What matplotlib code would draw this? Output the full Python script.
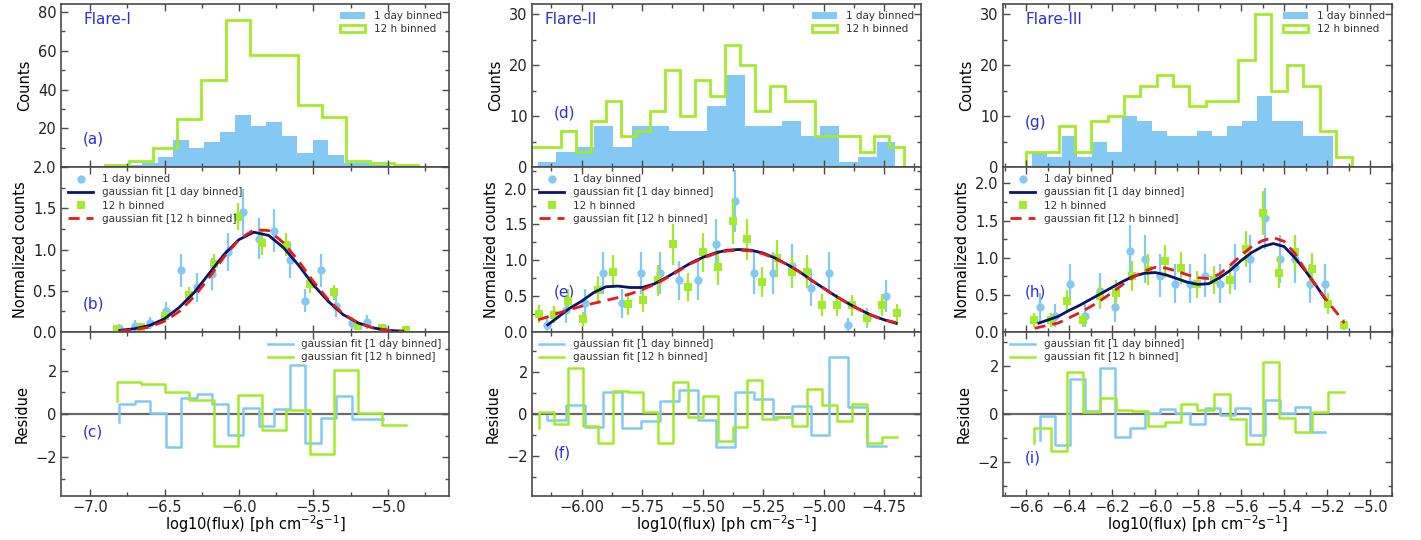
import matplotlib
matplotlib.use("Agg")
import matplotlib.pyplot as plt
import numpy as np
from matplotlib.ticker import MultipleLocator, FixedLocator
from matplotlib.patches import Patch
from matplotlib.lines import Line2D

#---------------------------------------------------------------------------------
# Flare-I

f1_day_x = [-6.805, -6.701, -6.597, -6.493, -6.389, -6.285, -6.180, -6.076, -5.972,
            -5.868, -5.764, -5.660, -5.556, -5.452, -5.348, -5.244, -5.139, -5.035]
f1_day_counts = [1, 1, 2, 5, 14, 10, 13, 18, 27, 21, 23, 16, 7, 14, 6, 2, 2, 1]
f1_day_norm = [0.05, 0.07, 0.11, 0.25, 0.75, 0.54, 0.70, 0.97, 1.45, 1.13, 1.23, 0.87,
               0.38, 0.75, 0.31, 0.11, 0.12, 0.05]
f1_day_resid = [-0.36, 0.47, 0.62, 0.05, -1.55, 0.72, 0.95, 0.48, -0.95, 0.30, -0.55,
                0.25, 2.25, -1.35, -0.18, 0.83, -0.25, -0.22]

f1_12h_x = [-6.818, -6.656, -6.494, -6.333, -6.171, -6.009, -5.847, -5.685, -5.524,
            -5.362, -5.200, -5.038, -4.876]
f1_12h_counts = [1, 3, 10, 25, 45, 76, 58, 58, 32, 26, 3, 2, 1]
f1_12h_norm = [0.04, 0.06, 0.19, 0.45, 0.82, 1.40, 1.08, 1.06, 0.58, 0.48, 0.07, 0.05, 0.03]
f1_12h_resid = [0.60, 1.46, 1.40, 1.00, 0.65, -1.47, 0.88, -0.75, 0.19, -1.86, 2.05, 0.03, -0.50]

f1_fit_x = [-6.8, -6.7, -6.6, -6.5, -6.4, -6.3, -6.2, -6.1, -6.0, -5.9,
            -5.8, -5.7, -5.6, -5.5, -5.4, -5.3, -5.2, -5.1, -5.0, -4.9]
f1_fit_day = [0.02, 0.04, 0.08, 0.16, 0.30, 0.48, 0.71, 0.94, 1.12, 1.21,
              1.17, 1.02, 0.81, 0.57, 0.37, 0.21, 0.11, 0.05, 0.02, 0.01]
f1_fit_12h = [0.01, 0.03, 0.06, 0.13, 0.25, 0.43, 0.66, 0.91, 1.12, 1.24,
              1.23, 1.08, 0.86, 0.61, 0.39, 0.22, 0.11, 0.05, 0.02, 0.01]

#---------------------------------------------------------------------------------
# Flare-II

f2_day_x = [-6.143, -6.066, -5.988, -5.910, -5.832, -5.754, -5.677, -5.599, -5.521, -5.443,
            -5.365, -5.288, -5.210, -5.132, -5.054, -4.976, -4.898, -4.821, -4.743]
f2_day_counts = [1, 3, 4, 8, 4, 8, 8, 7, 7, 12, 18, 8, 8, 9, 6, 8, 1, 2, 5]
f2_day_norm = [0.10, 0.30, 0.40, 0.82, 0.40, 0.82, 0.82, 0.72, 0.72, 1.22,
               1.83, 0.82, 0.82, 0.92, 0.62, 0.82, 0.10, 0.20, 0.50]
f2_day_resid = [-0.10, -0.28, 0.43, -0.63, 1.06, -0.68, -0.32, 0.62, 1.14, -0.29,
                -1.59, 1.06, 0.71, -0.13, 0.38, -1.00, 2.70, 0.35, -1.52]

f2_12h_x = [-6.178, -6.116, -6.055, -5.993, -5.931, -5.870, -5.808, -5.746, -5.685,
            -5.623, -5.561, -5.500, -5.438, -5.376, -5.315, -5.253, -5.191, -5.130,
            -5.068, -5.006, -4.945, -4.883, -4.821, -4.760, -4.698]
f2_12h_counts = [4, 4, 7, 3, 9, 13, 6, 7, 11, 19, 10, 17, 14, 24, 20, 11, 16, 13, 13,
                 6, 6, 6, 3, 6, 4]
f2_12h_norm = [0.25, 0.24, 0.43, 0.18, 0.59, 0.84, 0.39, 0.45, 0.72, 1.22, 0.63, 1.11,
               0.90, 1.55, 1.29, 0.70, 1.03, 0.84, 0.84, 0.38, 0.38, 0.37, 0.19, 0.38, 0.26]
f2_12h_resid = [-0.68, 0.08, -0.49, 2.20, -0.56, -1.40, 1.10, 1.05, 0.10, -1.37, 1.52,
                -0.16, 0.87, -1.27, -0.60, 1.62, -0.25, -0.16, -0.57, 1.21, 0.41, -0.32,
                0.48, -1.40, -1.11]

f2_fit_day_x = [-6.14, -6.10, -6.05, -6.00, -5.95, -5.90, -5.85, -5.80, -5.75, -5.70,
                -5.65, -5.60, -5.55, -5.50, -5.45, -5.40, -5.35, -5.30, -5.25, -5.20,
                -5.15, -5.10, -5.05, -5.00, -4.95, -4.90, -4.85, -4.80, -4.75, -4.70]
f2_fit_day = [0.10, 0.20, 0.33, 0.43, 0.55, 0.63, 0.64, 0.62, 0.62, 0.67,
              0.76, 0.86, 0.96, 1.04, 1.10, 1.14, 1.15, 1.14, 1.10, 1.03,
              0.94, 0.84, 0.72, 0.61, 0.50, 0.40, 0.31, 0.23, 0.17, 0.12]
f2_fit_12h_x = [-6.18, -6.15, -6.10, -6.05, -6.00, -5.95, -5.90, -5.85, -5.80, -5.75,
                -5.70, -5.65, -5.60, -5.55, -5.50, -5.45, -5.40, -5.35, -5.30, -5.25,
                -5.20, -5.15, -5.10, -5.05, -5.00, -4.95, -4.90, -4.85, -4.80, -4.75, -4.70]
f2_fit_12h = [0.17, 0.20, 0.26, 0.31, 0.36, 0.40, 0.44, 0.48, 0.53, 0.59,
              0.66, 0.75, 0.85, 0.95, 1.03, 1.09, 1.13, 1.14, 1.13, 1.09,
              1.02, 0.94, 0.84, 0.72, 0.61, 0.50, 0.40, 0.31, 0.23, 0.17, 0.13]

#---------------------------------------------------------------------------------
# Flare-III

f3_day_x = [-6.537, -6.467, -6.397, -6.327, -6.257, -6.187, -6.117, -6.048, -5.978, -5.908,
            -5.838, -5.768, -5.698, -5.628, -5.559, -5.489, -5.419, -5.349, -5.279, -5.209]
f3_day_counts = [3, 2, 6, 2, 5, 3, 10, 9, 7, 6, 6, 7, 6, 8, 9, 14, 9, 9, 6, 6]
f3_day_norm = [0.33, 0.22, 0.65, 0.22, 0.55, 0.33, 1.09, 0.98, 0.76, 0.65,
               0.65, 0.76, 0.65, 0.87, 0.98, 1.53, 0.98, 0.98, 0.65, 0.65]
f3_day_resid = [-1.08, -0.08, -1.29, 1.46, 0.14, 1.90, -0.94, -0.57, 0.03, 0.22,
                0.06, -0.42, 0.26, -0.06, 0.26, -0.85, 0.58, 0.03, 0.28, -0.74]

f3_12h_x = [-6.562, -6.486, -6.410, -6.334, -6.258, -6.183, -6.107, -6.031, -5.955, -5.879,
            -5.803, -5.727, -5.651, -5.575, -5.499, -5.424, -5.348, -5.272, -5.196, -5.120]
f3_12h_counts = [3, 3, 8, 3, 9, 10, 14, 16, 18, 16, 12, 13, 13, 21, 30, 15, 20, 16, 7, 2]
f3_12h_norm = [0.16, 0.16, 0.42, 0.16, 0.48, 0.53, 0.75, 0.84, 0.95, 0.86,
               0.64, 0.70, 0.70, 1.12, 1.60, 0.80, 1.07, 0.85, 0.38, 0.10]
f3_12h_resid = [-1.19, -0.57, -1.53, 1.76, 0.10, 0.65, 0.17, 0.12, -0.50, -0.32,
                0.42, 0.17, 0.83, -0.22, -1.25, 2.15, -0.18, -0.74, 0.10, 0.90]

f3_fit_day_x = [-6.54, -6.50, -6.45, -6.40, -6.35, -6.30, -6.25, -6.20, -6.15, -6.10,
                -6.05, -6.00, -5.95, -5.90, -5.85, -5.80, -5.75, -5.70, -5.65, -5.60,
                -5.55, -5.50, -5.45, -5.40, -5.35, -5.30, -5.25, -5.21]
f3_fit_day = [0.12, 0.16, 0.21, 0.29, 0.36, 0.44, 0.52, 0.60, 0.68, 0.75,
              0.79, 0.80, 0.77, 0.72, 0.67, 0.64, 0.65, 0.73, 0.83, 0.96,
              1.07, 1.15, 1.19, 1.15, 1.00, 0.82, 0.62, 0.45]
f3_fit_12h_x = [-6.56, -6.50, -6.45, -6.40, -6.35, -6.30, -6.25, -6.20, -6.15, -6.10,
                -6.05, -6.00, -5.95, -5.90, -5.85, -5.80, -5.75, -5.70, -5.65, -5.60,
                -5.55, -5.50, -5.45, -5.40, -5.35, -5.30, -5.25, -5.20, -5.15, -5.12]
f3_fit_12h = [0.05, 0.09, 0.12, 0.19, 0.26, 0.34, 0.43, 0.53, 0.64, 0.74,
              0.82, 0.87, 0.86, 0.82, 0.77, 0.73, 0.72, 0.78, 0.90, 1.03,
              1.15, 1.23, 1.27, 1.22, 1.06, 0.83, 0.62, 0.42, 0.24, 0.12]

#---------------------------------------------------------------------------------
# Estilo

c_day = '#84c9f4'
c_12h = '#a4ea2c'
c_fit_day = '#0b1466'
c_fit_12h = '#e51b1b'
c_txt = '#2f2fd6'
c_frame = '#4a4a4a'

plt.rcParams['font.family'] = 'DejaVu Sans'
plt.rcParams['font.size'] = 10.5

fig = plt.figure(figsize=(14.21, 5.40), dpi=100)

col_left = [61, 532, 1003]
col_width = [388, 389, 389]
row_top = [4, 167, 332]
row_height = [163, 165, 164]
W, H = 1421.0, 540.0

columns = [
    dict(name='Flare-I', tags=['(a)', '(b)', '(c)'],
         day=(f1_day_x, f1_day_counts, f1_day_norm, f1_day_resid),
         h12=(f1_12h_x, f1_12h_counts, f1_12h_norm, f1_12h_resid),
         fit_day=(f1_fit_x, f1_fit_day), fit_12h=(f1_fit_x, f1_fit_12h),
         xlim=(-7.195, -4.59), xmaj=0.5, ylim_top=(0, 84.2), ymaj_top=20,
         ylim_mid=(0, 2.0), ylim_res=(-3.8, 3.8), res_leg='upper right',
         tag_y=[0.17, 0.17, 0.39], name_x=0.059, hide_zero=True),
    dict(name='Flare-II', tags=['(d)', '(e)', '(f)'],
         day=(f2_day_x, f2_day_counts, f2_day_norm, f2_day_resid),
         h12=(f2_12h_x, f2_12h_counts, f2_12h_norm, f2_12h_resid),
         fit_day=(f2_fit_day_x, f2_fit_day), fit_12h=(f2_fit_12h_x, f2_fit_12h),
         xlim=(-6.205, -4.598), xmaj=0.25, ylim_top=(0, 32), ymaj_top=10,
         ylim_mid=(0, 2.3), ylim_res=(-3.9, 3.9), res_leg='upper left',
         tag_y=[0.33, 0.24, 0.26], name_x=0.033, hide_zero=False),
    dict(name='Flare-III', tags=['(g)', '(h)', '(i)'],
         day=(f3_day_x, f3_day_counts, f3_day_norm, f3_day_resid),
         h12=(f3_12h_x, f3_12h_counts, f3_12h_norm, f3_12h_resid),
         fit_day=(f3_fit_day_x, f3_fit_day), fit_12h=(f3_fit_12h_x, f3_fit_12h),
         xlim=(-6.707, -4.898), xmaj=0.2, ylim_top=(0, 32), ymaj_top=10,
         ylim_mid=(0, 2.22), ylim_res=(-3.4, 3.4), res_leg='upper left',
         tag_y=[0.27, 0.24, 0.23], name_x=0.059, hide_zero=False),
]


def edges_from_centers(x):
    x = np.asarray(x)
    w = x[1] - x[0]
    return np.append(x - w / 2, x[-1] + w / 2)


def style_axes(ax, xmaj, ymaj):
    ax.xaxis.set_major_locator(MultipleLocator(xmaj))
    ax.xaxis.set_minor_locator(MultipleLocator(xmaj / 2))
    ax.yaxis.set_major_locator(MultipleLocator(ymaj))
    ax.yaxis.set_minor_locator(MultipleLocator(ymaj / 2))
    ax.tick_params(which='both', direction='in', top=True, right=True,
                   color=c_frame, labelcolor='#222222', width=1.0)
    ax.tick_params(which='major', length=5, pad=3)
    ax.tick_params(which='minor', length=3)
    for s in ax.spines.values():
        s.set_color(c_frame)
        s.set_linewidth(1.2)


for j, col in enumerate(columns):
    axs = []
    for i in range(3):
        rect = [col_left[j] / W, 1 - (row_top[i] + row_height[i]) / H,
                col_width[j] / W, row_height[i] / H]
        axs.append(fig.add_axes(rect))
    ax_top, ax_mid, ax_res = axs

    dx, dcnt, dnorm, dres = col['day']
    hx, hcnt, hnorm, hres = col['h12']

    # histogramas
    ax_top.stairs(dcnt, edges_from_centers(dx), fill=True, color=c_day, lw=0)
    ax_top.stairs(hcnt, edges_from_centers(hx), color=c_12h, lw=2.0)
    ax_top.set_ylim(*col['ylim_top'])
    ax_top.set_ylabel('Counts')
    leg_handles = [Patch(facecolor=c_day, edgecolor='none', label='1 day binned'),
                   Patch(facecolor='white', edgecolor=c_12h, lw=2, label='12 h binned')]
    ax_top.legend(handles=leg_handles, loc='upper right', fontsize=7.5, frameon=False,
                  handlelength=2.4, labelspacing=0.3, borderaxespad=0.3,
                  labelcolor='#333333')

    # contagens normalizadas + ajuste
    dnorm = np.array(dnorm)
    hnorm = np.array(hnorm)
    ax_mid.errorbar(dx, dnorm, yerr=dnorm / np.sqrt(dcnt), fmt='o', color=c_day,
                    ms=6, mew=0, elinewidth=1.6, capsize=0, zorder=2)
    ax_mid.errorbar(hx, hnorm, yerr=hnorm / np.sqrt(hcnt), fmt='s', color=c_12h,
                    ms=6, mew=0, elinewidth=1.6, capsize=0, zorder=3)
    ax_mid.plot(*col['fit_day'], color=c_fit_day, lw=2.0, zorder=4)
    ax_mid.plot(*col['fit_12h'], color=c_fit_12h, lw=2.0, ls=(0, (4, 2.5)), zorder=5)
    ax_mid.set_ylim(*col['ylim_mid'])
    ax_mid.set_ylabel('Normalized counts')
    mid_handles = [Line2D([], [], ls='none', marker='o', ms=6, mew=0, color=c_day,
                          label='1 day binned'),
                   Line2D([], [], color=c_fit_day, lw=2, label='gaussian fit [1 day binned]'),
                   Line2D([], [], ls='none', marker='s', ms=6, mew=0, color=c_12h,
                          label='12 h binned'),
                   Line2D([], [], color=c_fit_12h, lw=2, ls=(0, (4, 2.5)),
                          label='gaussian fit [12 h binned]')]
    ax_mid.legend(handles=mid_handles, loc='upper left', fontsize=7.5, frameon=False,
                  handlelength=2.4, labelspacing=0.3, borderaxespad=0.3,
                  labelcolor='#333333')

    # resíduos
    ax_res.axhline(0, color='#6a6a6a', lw=1.6, zorder=1)
    ax_res.step(dx, dres, where='pre', color=c_day, lw=1.8,
                label='gaussian fit [1 day binned]', zorder=2)
    ax_res.step(hx, hres, where='pre', color=c_12h, lw=1.8,
                label='gaussian fit [12 h binned]', zorder=3)
    ax_res.set_ylim(*col['ylim_res'])
    ax_res.set_ylabel('Residue')
    ax_res.set_xlabel(r'log10(flux) [ph cm$^{-2}$s$^{-1}$]', labelpad=-1)
    ax_res.legend(loc=col['res_leg'], fontsize=7.5, frameon=False, handlelength=2.4,
                  labelspacing=0.3, borderaxespad=0.3, labelcolor='#333333')

    for ax, ymaj in zip(axs, [col['ymaj_top'], 0.5, 2]):
        ax.set_xlim(*col['xlim'])
        style_axes(ax, col['xmaj'], ymaj)
    ax_top.tick_params(labelbottom=False)
    ax_mid.tick_params(labelbottom=False)
    if col['hide_zero']:
        # o rótulo 2.0 do painel do meio fica no lugar do 0
        ymaj = col['ymaj_top']
        ax_top.yaxis.set_major_locator(FixedLocator(np.arange(ymaj, col['ylim_top'][1], ymaj)))

    ax_top.text(col['name_x'], 0.905, col['name'], transform=ax_top.transAxes,
                color=c_txt, fontsize=11, va='center', ha='left')
    for ax, tag, ty in zip(axs, col['tags'], col['tag_y']):
        ax.text(0.057, ty, tag, transform=ax.transAxes, color=c_txt, fontsize=11,
                va='center', ha='left')

fig.savefig('out.png', dpi=100)
